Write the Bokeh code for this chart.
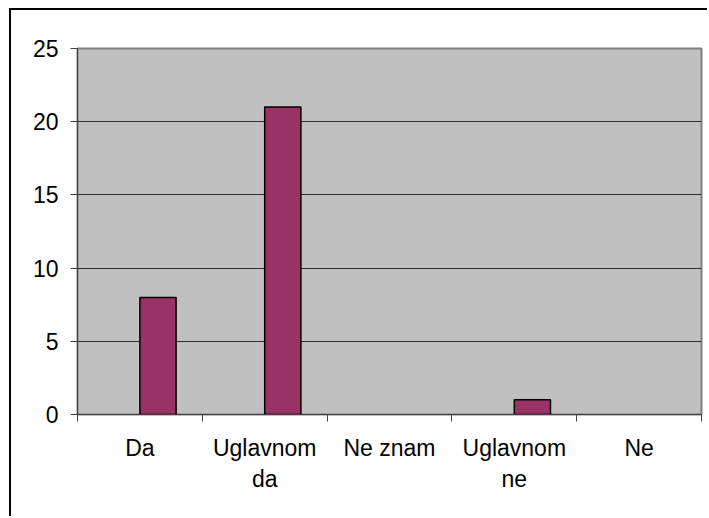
import numpy as np
from bokeh.plotting import figure
from bokeh.models import FixedTicker, Range1d
from bokeh.embed import file_html
from bokeh.resources import INLINE

categories = ["Da", "Uglavnom\nda", "Ne znam", "Uglavnom\nne", "Ne"]
values = [8, 21, 0, 1, 0]
y_ticks = [0, 5, 10, 15, 20, 25]

idx = np.arange(len(categories))
centers = idx + 0.5

p = figure(width=698, height=508, output_backend="svg", toolbar_location=None,
           x_range=Range1d(0, len(categories)), y_range=Range1d(0, 25),
           min_border_left=66, min_border_top=38, min_border_right=8, min_border_bottom=104)
p.styles = {"border-left": "2px solid black", "border-top": "2px solid black",
            "margin-left": "9px", "margin-top": "8px"}

p.background_fill_color = "#C0C0C0"
p.border_fill_color = "white"
p.outline_line_color = "#808080"
p.outline_line_width = 2

bw = 0.29
line_cols = ["black" if v > 0 else None for v in values]
p.vbar(x=centers + bw / 2, width=bw, top=values, bottom=0,
       fill_color="#993366", line_color=line_cols, line_width=1.5)

# x axis
xa = p.xaxis[0]
xa.ticker = FixedTicker(ticks=list(centers), minor_ticks=list(np.arange(len(categories) + 1)))
xa.major_label_overrides = {float(c): lab for c, lab in zip(centers, categories)}
xa.major_tick_out = 0
xa.major_tick_in = 0
xa.minor_tick_out = 7
xa.minor_tick_in = 0
xa.minor_tick_line_color = "#404040"
xa.axis_line_color = "#404040"
xa.major_label_standoff = 13
xa.major_label_text_font = "Liberation Sans"
xa.major_label_text_font_size = "23px"
xa.major_label_text_color = "black"
p.xgrid.grid_line_color = None

# y axis
ya = p.yaxis[0]
ya.ticker = FixedTicker(ticks=y_ticks, minor_ticks=[])
ya.major_tick_out = 7
ya.major_tick_in = 0
ya.major_tick_line_color = "#404040"
ya.axis_line_color = "#404040"
ya.major_label_standoff = 12
ya.major_label_text_font = "Liberation Sans"
ya.major_label_text_font_size = "23px"
ya.major_label_text_color = "black"
p.ygrid.ticker = FixedTicker(ticks=y_ticks)
p.ygrid.grid_line_color = "#303030"
p.ygrid.grid_line_width = 1

open("out.html", "w").write(file_html(p, INLINE))
